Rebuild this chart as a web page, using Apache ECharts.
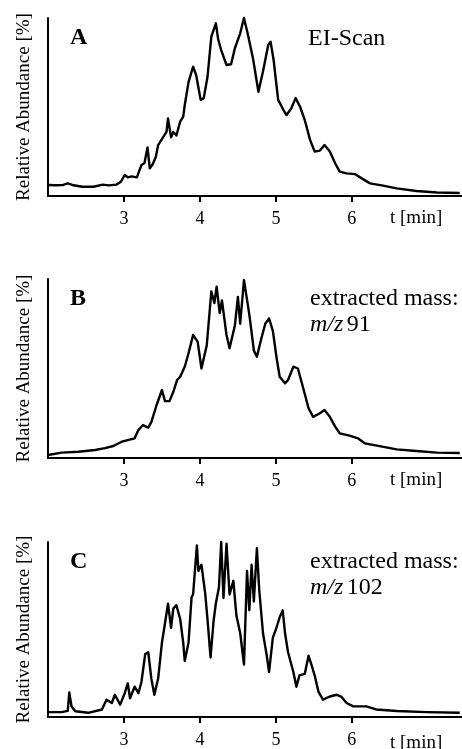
<!DOCTYPE html>
<html><head><meta charset="utf-8">
<script src="https://cdn.jsdelivr.net/npm/echarts@6/dist/echarts.min.js"></script>
<style>html,body{margin:0;padding:0;background:#fff}#c{width:462px;height:749px}</style>
</head><body><div id="c"></div>
<script>
// time [min], relative abundance [%]
const xTickValues = [3, 4, 5, 6];
const xMin = 2.0, xMax = 7.45;
const panelLetters = ['A', 'B', 'C'];
const panelTitles = [['EI-Scan'], ['extracted mass:', 'm/z 91'], ['extracted mass:', 'm/z 102']];
const yAxisTitle = 'Relative Abundance [%]';
const xAxisTitle = 't [min]';

const traceA = [[2.0,6.2],[2.1,6.0],[2.2,6.2],[2.26,7.1],[2.32,6.2],[2.45,5.2],[2.6,5.2],[2.72,6.4],[2.8,6.0],[2.9,6.4],
[2.96,8],[3.01,11.8],[3.05,10.5],[3.1,11],[3.17,10.5],[3.23,17.4],[3.27,18.5],[3.31,27.3],[3.34,15.5],[3.38,18],
[3.42,22],[3.45,28.6],[3.52,33.3],[3.56,36],[3.58,43.6],[3.62,33],[3.65,36],[3.69,34],[3.74,41.8],[3.78,44.6],
[3.80,51],[3.85,64],[3.91,72.6],[3.95,68],[4.01,54],[4.05,55],[4.10,67],[4.15,89.5],[4.21,97],[4.24,88],
[4.28,82],[4.35,73.6],[4.41,74],[4.46,83],[4.53,91.4],[4.58,100],[4.63,91],[4.70,77],[4.77,58.6],[4.83,70],
[4.90,85],[4.93,86.7],[4.97,76.4],[5.03,54],[5.10,48.3],[5.14,45.5],[5.20,49],[5.26,55],[5.32,50],[5.38,42.7],
[5.45,31.5],[5.51,25],[5.58,25.5],[5.64,28.6],[5.71,25],[5.78,18.4],[5.84,13.7],[5.93,12.7],[6.04,12.3],[6.13,9.9],
[6.24,7.1],[6.41,5.8],[6.59,4.3],[6.85,2.8],[7.12,2.0],[7.42,1.7]];

const traceB = [[2.0,1.7],[2.18,3],[2.4,3.5],[2.62,4.5],[2.75,5.5],[2.86,6.7],[2.97,9.1],[3.05,10],[3.14,11],[3.19,15.6],
[3.25,18.4],[3.32,17],[3.36,20],[3.43,29.6],[3.50,38],[3.54,31.8],[3.60,31.8],[3.65,37],[3.70,43.6],[3.74,45.4],
[3.80,51],[3.85,58.5],[3.91,68.7],[3.97,65],[4.02,50],[4.09,63],[4.15,93],[4.19,86.6],[4.22,95.7],[4.26,81],
[4.29,88],[4.35,68.7],[4.39,61.3],[4.46,74],[4.50,90],[4.53,75],[4.58,99.4],[4.64,83],[4.66,77],[4.71,60],
[4.75,56.6],[4.81,67],[4.86,75],[4.91,78],[4.96,71],[5.01,55.7],[5.05,45.4],[5.12,41.7],[5.16,43.6],[5.23,51],
[5.29,50],[5.36,39],[5.43,27.8],[5.49,23],[5.58,25],[5.64,26.8],[5.71,23],[5.78,17.5],[5.84,13.8],[5.97,12.5],
[6.08,11],[6.17,8.2],[6.33,6.9],[6.59,4.8],[6.85,3.9],[7.12,3],[7.42,2.8]];

const traceC = [[2.0,2.8],[2.18,2.8],[2.26,3.5],[2.28,14],[2.31,6],[2.36,3.3],[2.53,2.4],[2.71,4.3],[2.77,9.9],[2.84,8],
[2.88,12.7],[2.95,7.1],[3.01,13.6],[3.05,19.2],[3.08,10.7],[3.14,17.3],[3.19,13.6],[3.23,20],[3.28,36],[3.32,37],
[3.36,22],[3.40,12.7],[3.45,22],[3.50,42.5],[3.54,53.6],[3.58,64.8],[3.62,51],[3.65,62],[3.69,63.9],[3.74,56],
[3.78,42.5],[3.80,32],[3.85,42.5],[3.89,68.5],[3.91,70],[3.96,98],[3.98,83.4],[4.02,87],[4.07,70.4],[4.10,55.6],
[4.14,34],[4.18,55],[4.21,65],[4.25,74],[4.28,100],[4.31,68],[4.35,99],[4.39,70],[4.44,77.8],[4.48,58],
[4.53,48],[4.58,30],[4.62,83.4],[4.65,61],[4.68,87],[4.71,66],[4.75,96.5],[4.78,73],[4.83,48],[4.88,35],
[4.91,25.7],[4.96,45.4],[5.0,50],[5.05,57],[5.09,61],[5.12,48],[5.16,37],[5.23,25.7],[5.27,17.3],[5.31,23.8],
[5.38,24.6],[5.43,35],[5.47,29.6],[5.51,23.8],[5.56,14.5],[5.62,9.9],[5.71,11.7],[5.80,12.7],[5.86,11.7],[5.93,8],
[6.02,6.1],[6.19,6.1],[6.32,4.3],[6.59,3.4],[6.98,2.8],[7.42,2.4]];

const traces = [traceA, traceB, traceC];
const FONT = 'Liberation Serif';
const gridTops = [18, 279, 542];
const gridHeights = [178, 179, 179];

const chart = echarts.init(document.getElementById('c'), null, {renderer: 'canvas'});
const grids = [], xAxes = [], yAxes = [], series = [], graphics = [];
for (let i = 0; i < 3; i++) {
  grids.push({left: 48, right: 0, top: gridTops[i], height: gridHeights[i], containLabel: false});
  xAxes.push({
    type: 'value', gridIndex: i, min: xMin, max: xMax, interval: 1,
    axisLine: {show: true, onZero: false, lineStyle: {color: '#000', width: 2}},
    axisTick: {show: true, customValues: xTickValues, length: 6, inside: false, lineStyle: {color: '#000', width: 2}},
    axisLabel: {show: true, customValues: xTickValues, margin: 14, color: '#000', fontFamily: FONT, fontSize: 18},
    splitLine: {show: false}
  });
  yAxes.push({
    type: 'value', gridIndex: i, min: 0, max: 100,
    name: yAxisTitle, nameLocation: 'middle', nameGap: 14, nameRotate: 90,
    nameTextStyle: {color: '#000', fontFamily: FONT, fontSize: 19},
    axisLine: {show: true, lineStyle: {color: '#000', width: 2}},
    axisTick: {show: false}, axisLabel: {show: false}, splitLine: {show: false}
  });
  series.push({
    type: 'line', xAxisIndex: i, yAxisIndex: i, data: traces[i], symbol: 'none', smooth: false,
    clip: false, lineStyle: {color: '#000', width: 2.4, join: 'round'}
  });
  const cy = gridTops[i] + 22;
  graphics.push({type: 'text', left: 70, top: cy - 14, style: {text: panelLetters[i], font: 'bold 24px "Liberation Serif"', fill: '#000'}});
  const t = panelTitles[i];
  if (t.length === 1) {
    graphics.push({type: 'text', left: 308, top: cy - 13, style: {text: t[0], font: '24px "Liberation Serif"', fill: '#000'}});
  } else {
    graphics.push({type: 'text', left: 310, top: cy - 14, style: {text: t[0], font: '24px "Liberation Serif"', fill: '#000'}});
    const parts = t[1].split(' ');
    graphics.push({type: 'text', left: 310, top: cy + 12, style: {
      text: '{i|' + parts[0] + '} {n|' + parts[1] + '}',
      rich: {i: {fontFamily: FONT, fontStyle: 'italic', fontSize: 24, fill: '#000'}, n: {fontFamily: FONT, fontSize: 24, fill: '#000'}},
      fill: '#000'
    }});
  }
  const axisY = gridTops[i] + gridHeights[i];
  graphics.push({type: 'text', left: 390, top: axisY + 13, style: {text: xAxisTitle, font: '19px "Liberation Serif"', fill: '#000'}});
}
chart.setOption({
  animation: false, backgroundColor: '#fff',
  grid: grids, xAxis: xAxes, yAxis: yAxes, series: series, graphic: graphics
});
</script></body></html>
